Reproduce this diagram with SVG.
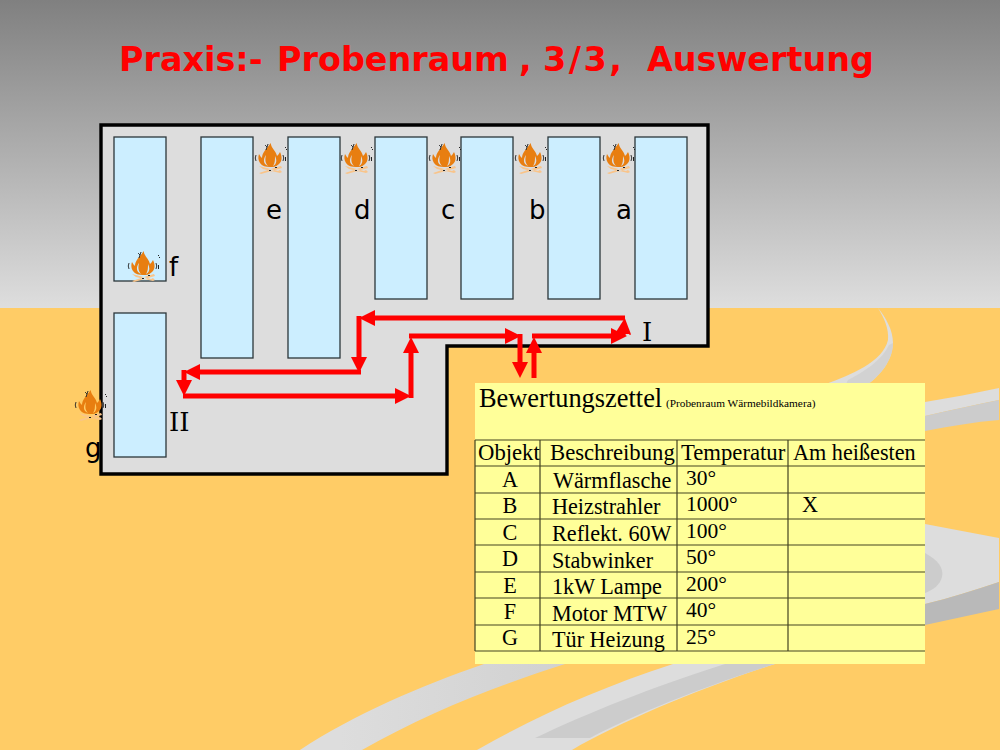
<svg xmlns="http://www.w3.org/2000/svg" width="1000" height="750" viewBox="0 0 1000 750">
<style>
.title{font-family:"DejaVu Sans",sans-serif;font-weight:bold;font-size:33.4px;fill:#ff0000;white-space:pre}
.lbl{font-family:"DejaVu Sans",sans-serif;font-size:26px;fill:#000}
.rom{font-family:"DejaVu Serif",serif;font-size:26px;fill:#000}
.shelf{fill:#cceeff;stroke:#2c363a;stroke-width:1.3}
.cell{font-family:"Liberation Serif",serif;font-size:22.2px;fill:#000}
.head{font-size:22.7px}
.num{font-size:21.5px}
.ctr{text-anchor:middle}
.grid{stroke:#444422;stroke-width:1.2;fill:none}
.flow{stroke:#ff0000;stroke-width:5;fill:none}
.lt{fill:#dddddd}.md{fill:#cccccc}.dk{fill:#b9b9b9}
</style>
<defs>
<linearGradient id="sky" x1="0" y1="0" x2="0" y2="1"><stop offset="0" stop-color="#808080"/><stop offset="1" stop-color="#dedede"/></linearGradient>
<linearGradient id="fade" gradientUnits="userSpaceOnUse" x1="340" y1="0" x2="600" y2="0"><stop offset="0" stop-color="#dddddd"/><stop offset="1" stop-color="#cfcfcf"/></linearGradient>
<marker id="ah" markerUnits="userSpaceOnUse" markerWidth="17" markerHeight="17" refX="8" refY="8.5" orient="auto"><path d="M0,0.5L16,8.5L0,16.5z" fill="#ff0000"/></marker>
<symbol id="fire" overflow="visible">
<path fill="#e87e10" fill-rule="evenodd" d="M0.7,-15C1,-10 6,-7 7,-2C8,-3 9,-4 10,-6C12,-2 12.5,3 9,6C6,9 3,9 0,9C-4,9 -8,8 -10,5C-12,2 -12,-1 -11,-4C-10,-2 -9,-1 -8,0C-8,-6 -3,-9 0.7,-15zM-2,8C-7,6 -7,1 -4,-3C-5,1 -5,5 -2,8zM3,8C7,6 7,2 5,-2C5,2 5,5 3,8z"/>
<path fill="#f9c48a" d="M-11,8L8,13L10,12L12,14L10,15L-7,11zM-11,15L-9,16L12,10L11,8L4,10z"/>
<g fill="#222"><path d="M-5,-13l2,2l1,-3l-1,3l-1,3l1,-3z" stroke="#222" stroke-width=".6"/><path d="M-14,-3q-1.5,3 0,6" stroke="#222" stroke-width=".9" fill="none"/><path d="M13,-3q1.5,3 0,6" stroke="#222" stroke-width=".9" fill="none"/><rect x="15" y="-1" width="1" height="4"/><rect x="15" y="-11" width="1" height="1"/><rect x="16" y="-9" width="1" height="1"/><rect x="-1" y="12" width="2" height="1"/><rect x="5" y="9" width="2" height="1"/></g>
</symbol>
</defs>
<g id="background">
<rect x="0" y="0" width="1000" height="308" fill="url(#sky)"/>
<rect x="0" y="308" width="1000" height="442" fill="#ffcc66"/>
<path class="lt" d="M878,308C886,318 893,330 893,343C893,360 880,376 868,384L826,384C850,375 883,362 888,340C889,328 884,318 878,308z"/>
<path class="md" d="M848,380C864,372 882,360 889,345L893,343C893,360 880,376 868,384L846,384z" opacity=".6"/>
<path class="lt" d="M925,402C950,398 975,393 999,388L999,400C975,405 950,410 925,416z"/>
<path class="md" d="M925,416C950,410 975,405 999,400L999,420C975,422 950,426 925,431z"/>
<path class="lt" d="M925,524L999,538L999,582C975,590 950,598 925,604z"/>
<path class="md" d="M925,553C938,560 944,568 942,577C940,585 933,590 925,593z"/>
<path class="dk" d="M925,604C950,598 975,590 999,582L999,609L925,625z"/>
<path fill="url(#fade)" d="M300,750C355,714 420,686 484,664L565,664C490,688 425,714 362,750z"/>
<path class="lt" d="M477,750C540,714 600,688 673,664L775,664C700,688 620,722 572,750z"/>
<path class="md" d="M535,738C590,712 650,688 725,664L775,664C700,688 640,712 590,738z"/>
</g>
<text class="title" y="71"><tspan x="119">Praxis:- </tspan><tspan x="277">Probenraum </tspan><tspan x="519">, </tspan><tspan x="543" letter-spacing="2.5">3/3,  </tspan><tspan x="647">Auswertung</tspan></text>
<g id="room"><path d="M101,125H708V346H447V474H101z" fill="#dddddd" stroke="#000" stroke-width="3.4"/></g>
<g id="shelf-1"><rect class="shelf" x="114" y="137" width="52" height="144"/></g>
<g id="shelf-2"><rect class="shelf" x="114" y="313" width="52" height="144"/></g>
<g id="shelf-3"><rect class="shelf" x="201" y="137" width="52" height="221"/></g>
<g id="shelf-4"><rect class="shelf" x="288" y="137" width="52" height="221"/></g>
<g id="shelf-5"><rect class="shelf" x="375" y="137" width="52" height="162"/></g>
<g id="shelf-6"><rect class="shelf" x="461" y="137" width="52" height="162"/></g>
<g id="shelf-7"><rect class="shelf" x="548" y="137" width="52" height="162"/></g>
<g id="shelf-8"><rect class="shelf" x="635" y="137" width="52" height="162"/></g>
<g id="connectors">
<path class="flow" d="M625,318H367" marker-end="url(#ah)"/>
<path class="flow" d="M359,316V365" marker-end="url(#ah)"/>
<path class="flow" d="M361,372H192" marker-end="url(#ah)"/>
<path class="flow" d="M184,370V388" marker-end="url(#ah)"/>
<path class="flow" d="M183,396H403" marker-end="url(#ah)"/>
<path class="flow" d="M411,398V345" marker-end="url(#ah)"/>
<path class="flow" d="M409,336H513" marker-end="url(#ah)"/>
<path class="flow" d="M520,334V370" marker-end="url(#ah)"/>
<path class="flow" d="M534,378V345" marker-end="url(#ah)"/>
<path class="flow" d="M532,336H619" marker-end="url(#ah)"/>
<path class="flow" d="M623,336L624,326" marker-end="url(#ah)"/>
</g>
<g id="fire-e"><use href="#fire" x="270" y="158"/><text class="lbl" x="266" y="219">e</text></g>
<g id="fire-d"><use href="#fire" x="356" y="158"/><text class="lbl" x="354" y="219">d</text></g>
<g id="fire-c"><use href="#fire" x="444" y="158"/><text class="lbl" x="441" y="219">c</text></g>
<g id="fire-b"><use href="#fire" x="530" y="158"/><text class="lbl" x="529" y="219">b</text></g>
<g id="fire-a"><use href="#fire" x="618" y="158"/><text class="lbl" x="616" y="219">a</text></g>
<g id="fire-f"><use href="#fire" x="143" y="266"/><text class="lbl" x="169" y="276">f</text></g>
<g id="fire-g"><use href="#fire" x="90" y="405"/><text class="lbl" x="85" y="457">g</text></g>
<g id="label-I"><text class="rom" x="642" y="341">I</text></g>
<g id="label-II"><text class="rom" x="169" y="431">II</text></g>
<g id="sheet">
<rect x="475" y="383" width="450" height="281" fill="#ffff99"/>
<text x="479" y="407" font-family="Liberation Serif,serif" font-size="26.4" fill="#000">Bewertungszettel</text>
<text x="666" y="407" font-family="Liberation Serif,serif" font-size="11.3" fill="#000">(Probenraum Wärmebildkamera)</text>
<path class="grid" d="M475,440H925M475,466H925M475,493H925M475,519H925M475,545H925M475,572H925M475,598H925M475,625H925M475,651H925M475,440V651M540,440V651M677,440V651M788,440V651"/>
<g class="cell">
<text class="head" x="478" y="460">Objekt</text><text class="head" x="550" y="460">Beschreibung</text><text class="head" x="681" y="460">Temperatur</text><text x="793" y="460">Am heißesten</text>
<text class="ctr" x="510" y="487">A</text><text x="553" y="488">Wärmflasche</text><text class="num" x="686" y="485">30°</text>
<text class="ctr" x="510" y="513">B</text><text x="552" y="514">Heizstrahler</text><text class="num" x="686" y="511">1000°</text><text x="802" y="512">X</text>
<text class="ctr" x="510" y="540">C</text><text x="552" y="541">Reflekt. 60W</text><text class="num" x="686" y="538">100°</text>
<text class="ctr" x="510" y="566">D</text><text x="552" y="568">Stabwinker</text><text class="num" x="686" y="564">50°</text>
<text class="ctr" x="510" y="593">E</text><text x="552" y="594">1kW Lampe</text><text class="num" x="686" y="591">200°</text>
<text class="ctr" x="510" y="619">F</text><text x="552" y="621">Motor MTW</text><text class="num" x="686" y="617">40°</text>
<text class="ctr" x="510" y="645">G</text><text x="552" y="647">Tür Heizung</text><text class="num" x="686" y="644">25°</text>
</g>
</g>
</svg>
